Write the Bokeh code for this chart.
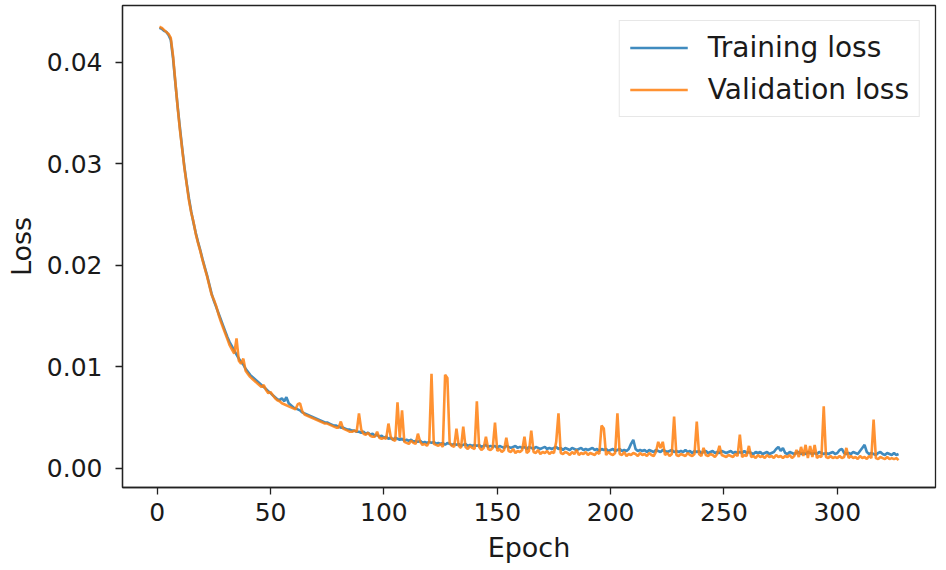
from bokeh.plotting import figure
from bokeh.models import FixedTicker, NumeralTickFormatter, Range1d, Legend, LegendItem
from bokeh.embed import file_html
from bokeh.resources import INLINE

epochs = list(range(1, 328))

training_loss = [
    0.0434, 0.0433, 0.0431, 0.0430, 0.0427, 0.0422, 0.0404, 0.0380, 0.0357, 0.0336,
    0.0316, 0.0297, 0.0281, 0.0266, 0.0253, 0.0242, 0.0232, 0.0223, 0.0215, 0.0206,
    0.0198, 0.0190, 0.0181, 0.0172, 0.0165, 0.0159, 0.0153, 0.0147, 0.0141, 0.0135,
    0.0129, 0.0124, 0.0120, 0.0116, 0.0112, 0.0108, 0.0105, 0.0102, 0.0098, 0.0095,
    0.0092, 0.0090, 0.0088, 0.0086, 0.0084, 0.0082, 0.0080, 0.0078, 0.0076, 0.0074,
    0.0072, 0.0070, 0.0068, 0.0067, 0.0069, 0.0066, 0.0070, 0.0064, 0.0062, 0.0060,
    0.0059, 0.0058, 0.0057, 0.0055, 0.0054, 0.0053, 0.0052, 0.0051, 0.0050, 0.0049,
    0.0048, 0.0047, 0.0046, 0.0045, 0.0045, 0.0044, 0.0043, 0.0042, 0.0042, 0.0041,
    0.0040, 0.0040, 0.0039, 0.0038, 0.0038, 0.0037, 0.0037, 0.0036, 0.0036, 0.0035,
    0.0036, 0.0034, 0.0035, 0.0033, 0.0034, 0.0032, 0.0033, 0.0031, 0.0032, 0.0030,
    0.0031, 0.0029, 0.0030, 0.0028, 0.0030, 0.0029, 0.0028, 0.0029, 0.0027, 0.0028,
    0.0027, 0.0028, 0.0026, 0.0027, 0.0026, 0.0027, 0.0025, 0.0026, 0.0025, 0.0026,
    0.0025, 0.0026, 0.0024, 0.0025, 0.0024, 0.0025, 0.0023, 0.0025, 0.0024, 0.0023,
    0.0024, 0.0023, 0.0024, 0.0022, 0.0023, 0.0024, 0.0022, 0.0023, 0.0022, 0.0023,
    0.0022, 0.0023, 0.0021, 0.0022, 0.0023, 0.0021, 0.0022, 0.0021, 0.0022, 0.0020,
    0.0022, 0.0021, 0.0020, 0.0022, 0.0021, 0.0020, 0.0021, 0.0022, 0.0020, 0.0021,
    0.0020, 0.0021, 0.0019, 0.0021, 0.0020, 0.0019, 0.0021, 0.0020, 0.0019, 0.0020,
    0.0021, 0.0019, 0.0020, 0.0019, 0.0020, 0.0021, 0.0019, 0.0020, 0.0018, 0.0020,
    0.0019, 0.0018, 0.0020, 0.0019, 0.0018, 0.0019, 0.0020, 0.0018, 0.0019, 0.0018,
    0.0019, 0.0020, 0.0018, 0.0019, 0.0017, 0.0019, 0.0018, 0.0019, 0.0017, 0.0018,
    0.0019, 0.0017, 0.0018, 0.0019, 0.0017, 0.0018, 0.0017, 0.0019, 0.0024, 0.0028,
    0.0019, 0.0017, 0.0018, 0.0017, 0.0018, 0.0016, 0.0018, 0.0017, 0.0016, 0.0018,
    0.0017, 0.0016, 0.0018, 0.0017, 0.0016, 0.0017, 0.0018, 0.0016, 0.0017, 0.0016,
    0.0017, 0.0016, 0.0018, 0.0016, 0.0017, 0.0015, 0.0017, 0.0016, 0.0017, 0.0015,
    0.0016, 0.0017, 0.0015, 0.0016, 0.0017, 0.0015, 0.0016, 0.0015, 0.0017, 0.0016,
    0.0015, 0.0016, 0.0017, 0.0015, 0.0016, 0.0015, 0.0016, 0.0015, 0.0017, 0.0015,
    0.0016, 0.0015, 0.0014, 0.0016, 0.0015, 0.0016, 0.0014, 0.0015, 0.0016, 0.0014,
    0.0015, 0.0016, 0.0019, 0.0021, 0.0017, 0.0020, 0.0015, 0.0014, 0.0016, 0.0015,
    0.0014, 0.0015, 0.0016, 0.0014, 0.0015, 0.0014, 0.0016, 0.0015, 0.0014, 0.0015,
    0.0014, 0.0016, 0.0015, 0.0014, 0.0015, 0.0014, 0.0015, 0.0016, 0.0014, 0.0015,
    0.0018, 0.0019, 0.0015, 0.0014, 0.0015, 0.0014, 0.0016, 0.0015, 0.0014, 0.0017,
    0.0020, 0.0023, 0.0016, 0.0014, 0.0015, 0.0014, 0.0013, 0.0015, 0.0016, 0.0014,
    0.0013, 0.0015, 0.0014, 0.0013, 0.0015, 0.0013, 0.0014,
]

validation_loss = [
    0.0435, 0.0434, 0.0432, 0.0430, 0.0428, 0.0424, 0.0406, 0.0381, 0.0356, 0.0334,
    0.0315, 0.0296, 0.0280, 0.0264, 0.0252, 0.0243, 0.0231, 0.0222, 0.0214, 0.0205,
    0.0197, 0.0189, 0.0180, 0.0171, 0.0166, 0.0160, 0.0152, 0.0145, 0.0139, 0.0133,
    0.0127, 0.0121, 0.0117, 0.0113, 0.0128, 0.0106, 0.0103, 0.0108, 0.0096, 0.0093,
    0.0090, 0.0088, 0.0086, 0.0084, 0.0082, 0.0080, 0.0082, 0.0077, 0.0074, 0.0075,
    0.0072, 0.0069, 0.0067, 0.0066, 0.0064, 0.0063, 0.0062, 0.0061, 0.0060, 0.0059,
    0.0058, 0.0063, 0.0064, 0.0056, 0.0053, 0.0052, 0.0051, 0.0050, 0.0049, 0.0048,
    0.0047, 0.0046, 0.0045, 0.0044, 0.0044, 0.0043, 0.0042, 0.0041, 0.0040, 0.0040,
    0.0046, 0.0039, 0.0038, 0.0037, 0.0036, 0.0036, 0.0037, 0.0036, 0.0054, 0.0038,
    0.0034, 0.0033, 0.0035, 0.0032, 0.0031, 0.0031, 0.0036, 0.0030, 0.0029, 0.0030,
    0.0029, 0.0044, 0.0031, 0.0028, 0.0027, 0.0065, 0.0030, 0.0057, 0.0026, 0.0025,
    0.0024, 0.0027, 0.0025, 0.0024, 0.0034, 0.0026, 0.0023, 0.0024, 0.0022, 0.0026,
    0.0093, 0.0024, 0.0023, 0.0022, 0.0024, 0.0021, 0.0092, 0.0089, 0.0025, 0.0022,
    0.0021, 0.0039, 0.0022, 0.0020, 0.0041, 0.0021, 0.0019, 0.0022, 0.0020, 0.0019,
    0.0066, 0.0021, 0.0018, 0.0020, 0.0031, 0.0019, 0.0018, 0.0020, 0.0045, 0.0017,
    0.0019, 0.0016, 0.0018, 0.0030, 0.0017, 0.0016, 0.0019, 0.0015, 0.0017, 0.0016,
    0.0018, 0.0031, 0.0015, 0.0017, 0.0037, 0.0016, 0.0015, 0.0018, 0.0014, 0.0016,
    0.0015, 0.0017, 0.0014, 0.0016, 0.0015, 0.0026, 0.0054, 0.0015, 0.0014, 0.0016,
    0.0015, 0.0013, 0.0016, 0.0014, 0.0018, 0.0013, 0.0015, 0.0014, 0.0016, 0.0013,
    0.0015, 0.0014, 0.0013, 0.0016, 0.0014, 0.0042, 0.0039, 0.0013, 0.0016, 0.0014,
    0.0013, 0.0015, 0.0054, 0.0014, 0.0013, 0.0016, 0.0012, 0.0014, 0.0013, 0.0015,
    0.0014, 0.0012, 0.0015, 0.0013, 0.0014, 0.0012, 0.0015, 0.0013, 0.0012, 0.0016,
    0.0026, 0.0020, 0.0026, 0.0013, 0.0015, 0.0012, 0.0014, 0.0051, 0.0013, 0.0012,
    0.0014, 0.0013, 0.0012, 0.0015, 0.0013, 0.0012, 0.0014, 0.0046, 0.0014, 0.0012,
    0.0020, 0.0013, 0.0012, 0.0014, 0.0013, 0.0011, 0.0014, 0.0022, 0.0013, 0.0012,
    0.0011, 0.0013, 0.0012, 0.0011, 0.0014, 0.0012, 0.0033, 0.0011, 0.0013, 0.0012,
    0.0022, 0.0011, 0.0012, 0.0010, 0.0013, 0.0011, 0.0012, 0.0010, 0.0013, 0.0011,
    0.0012, 0.0010, 0.0013, 0.0011, 0.0012, 0.0010, 0.0012, 0.0011, 0.0013, 0.0010,
    0.0012, 0.0018, 0.0011, 0.0021, 0.0012, 0.0023, 0.0010, 0.0022, 0.0011, 0.0023,
    0.0010, 0.0012, 0.0011, 0.0061, 0.0011, 0.0010, 0.0012, 0.0010, 0.0011, 0.0010,
    0.0012, 0.0010, 0.0011, 0.0020, 0.0010, 0.0012, 0.0010, 0.0011, 0.0009, 0.0012,
    0.0010, 0.0011, 0.0009, 0.0012, 0.0010, 0.0048, 0.0010, 0.0009, 0.0011, 0.0010,
    0.0009, 0.0011, 0.0009, 0.0010, 0.0009, 0.0010, 0.0008,
]

x_ticks = [0, 50, 100, 150, 200, 250, 300]
y_ticks = [0.0, 0.01, 0.02, 0.03, 0.04]

FONT = "DejaVu Sans"

p = figure(width=944, height=568, output_backend="svg", toolbar_location=None,
           x_range=Range1d(-15.3, 343.3), y_range=Range1d(-0.0019, 0.0456),
           min_border_left=122, min_border_right=9, min_border_top=5, min_border_bottom=81)

p.background_fill_color = "white"
p.border_fill_color = "white"
p.outline_line_color = "#222222"
p.outline_line_width = 1.3
p.xgrid.visible = False
p.ygrid.visible = False

r1 = p.line(epochs, training_loss, line_color="#1f77b4", line_width=2.6, line_alpha=0.85)
r2 = p.line(epochs, validation_loss, line_color="#ff7f0e", line_width=2.6, line_alpha=0.85)

for ax in (p.xaxis[0], p.yaxis[0]):
    ax.axis_line_color = "#222222"
    ax.axis_line_width = 1.3
    ax.major_tick_line_color = "#222222"
    ax.major_tick_line_width = 1.3
    ax.major_tick_out = 7
    ax.major_tick_in = 0
    ax.minor_tick_line_color = None
    ax.major_label_text_font = FONT
    ax.major_label_text_font_size = "25px"
    ax.major_label_text_color = "#1a1a1a"
    ax.axis_label_text_font = FONT
    ax.axis_label_text_font_size = "27px"
    ax.axis_label_text_font_style = "normal"
    ax.axis_label_text_color = "#1a1a1a"

p.xaxis.ticker = FixedTicker(ticks=x_ticks)
p.yaxis.ticker = FixedTicker(ticks=y_ticks)
p.yaxis.formatter = NumeralTickFormatter(format="0.00")
p.xaxis.axis_label = "Epoch"
p.yaxis.axis_label = "Loss"
p.xaxis.major_label_standoff = 8
p.yaxis.major_label_standoff = 13
p.xaxis.axis_label_standoff = 8
p.yaxis.axis_label_standoff = 7

legend = Legend(items=[LegendItem(label="Training loss", renderers=[r1]),
                       LegendItem(label="Validation loss", renderers=[r2])],
                location="top_right")
legend.label_text_font = FONT
legend.label_text_font_size = "28px"
legend.label_text_color = "#1a1a1a"
legend.glyph_width = 58
legend.glyph_height = 31
legend.label_height = 31
legend.label_standoff = 20
legend.spacing = 9
legend.padding = 10
legend.margin = 15
legend.border_line_color = "#d0d0d0"
legend.border_line_width = 1
legend.background_fill_alpha = 0.9
p.add_layout(legend)

open("out.html", "w").write(file_html(p, INLINE))
